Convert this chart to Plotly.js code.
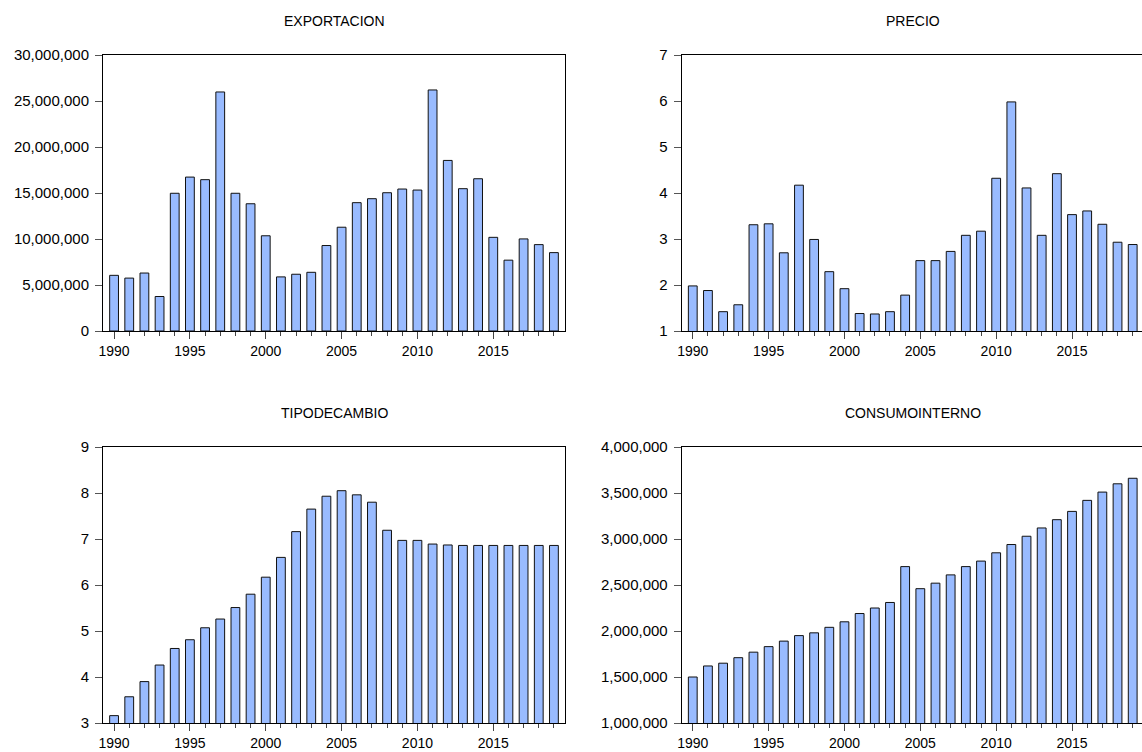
<!DOCTYPE html>
<html>
<head>
<meta charset="utf-8">
<script src="https://cdn.plot.ly/plotly-3.0.1.min.js"></script>
<style>
  html, body { margin: 0; padding: 0; background: #fff; }
  #chart { width: 1142px; height: 752px; }
</style>
</head>
<body>
<div id="chart"></div>
<script>
const years = [1990,1991,1992,1993,1994,1995,1996,1997,1998,1999,2000,2001,2002,2003,2004,2005,2006,2007,2008,2009,2010,2011,2012,2013,2014,2015,2016,2017,2018,2019];

const exportacion = [6050000,5750000,6300000,3750000,14970000,16730000,16450000,25980000,14970000,13830000,10350000,5880000,6170000,6380000,9290000,11280000,13950000,14380000,15030000,15430000,15320000,26200000,18540000,15470000,16550000,10180000,7700000,10010000,9390000,8520000];

const precio = [1.98,1.88,1.42,1.57,3.31,3.33,2.70,4.17,2.99,2.29,1.92,1.38,1.37,1.42,1.78,2.53,2.53,2.73,3.08,3.17,4.32,5.98,4.11,3.08,4.42,3.53,3.61,3.32,2.93,2.88];

const tipodecambio = [3.16,3.57,3.90,4.26,4.62,4.81,5.07,5.26,5.51,5.80,6.17,6.60,7.16,7.65,7.93,8.05,7.96,7.80,7.19,6.97,6.97,6.89,6.87,6.86,6.86,6.86,6.86,6.86,6.86,6.86];

const consumointerno = [1500000,1620000,1650000,1710000,1770000,1830000,1890000,1950000,1980000,2040000,2100000,2190000,2250000,2310000,2700000,2460000,2520000,2610000,2700000,2760000,2850000,2940000,3030000,3120000,3210000,3300000,3420000,3510000,3600000,3660000];

const titles = ["EXPORTACION", "PRECIO", "TIPODECAMBIO", "CONSUMOINTERNO"];

const W = 1142, H = 752;
const fontFam = "Liberation Sans, Arial, sans-serif";
const barColor = "#99bbff";

function bar(y, xa, ya) {
  return {
    type: "bar", x: years, y: y, xaxis: xa, yaxis: ya,
    width: 0.58,
    marker: { color: barColor, line: { color: "#111", width: 1 } },
    hoverinfo: "x+y", showlegend: false
  };
}

const data = [
  bar(exportacion, "x", "y"),
  bar(precio, "x2", "y2"),
  bar(tipodecambio, "x3", "y3"),
  bar(consumointerno, "x4", "y4")
];

// pixel geometry of plot areas
const leftDom = [103 / W, 565 / W];
const rightDom = [681.7 / W, 1];
const topDom = [1 - 331 / H, 1 - 55 / H];
const botDom = [1 - 723 / H, 1 - 447 / H];

function xax(dom, anchor, range) {
  return {
    domain: dom, anchor: anchor, range: range,
    showline: true, linecolor: "#000", linewidth: 1, mirror: true,
    showgrid: false, zeroline: false,
    ticks: "outside", ticklen: 7, tickcolor: "#444", tickwidth: 1,
    tick0: 1990, dtick: 5,
    minor: { ticks: "outside", ticklen: 4, tick0: 1990, dtick: 1, tickcolor: "#444", tickwidth: 1, showgrid: false },
    tickfont: { family: fontFam, size: 14, color: "#000" },
    fixedrange: true
  };
}
function yax(dom, anchor, range, dtick, fmt, mirror) {
  return {
    domain: dom, anchor: anchor, range: range,
    showline: true, linecolor: "#000", linewidth: 1, mirror: mirror,
    showgrid: false, zeroline: false,
    ticks: "outside", ticklen: 7, tickcolor: "#555", tickwidth: 1,
    dtick: dtick, tick0: range[0], tickformat: fmt,
    tickfont: { family: fontFam, size: 15, color: "#000" },
    ticklabelstandoff: 3,
    fixedrange: true
  };
}

const xLeftRange = [1989.27, 2019.73];
const xRightRange = [1989.27, 1989.27 + (W - 681.7) / 15.17];

function title(text, xc, yc) {
  return {
    text: text, xref: "paper", yref: "paper", x: xc, y: yc,
    xanchor: "center", yanchor: "middle", showarrow: false,
    font: { family: fontFam, size: 14, color: "#000" }
  };
}

const layout = {
  width: W, height: H,
  margin: { l: 0, r: 0, t: 0, b: 0 },
  paper_bgcolor: "#fff", plot_bgcolor: "#fff",
  bargap: 0,
  xaxis: xax(leftDom, "y", xLeftRange),
  yaxis: yax(topDom, "x", [0, 30000000], 5000000, ",d", true),
  xaxis2: xax(rightDom, "y2", xRightRange),
  yaxis2: yax(topDom, "x2", [1, 7], 1, "d", false),
  xaxis3: xax(leftDom, "y3", xLeftRange),
  yaxis3: yax(botDom, "x3", [3, 9], 1, "d", true),
  xaxis4: xax(rightDom, "y4", xRightRange),
  yaxis4: yax(botDom, "x4", [1000000, 4000000], 500000, ",d", false),
  annotations: [
    title(titles[0], 334 / W, 1 - 21 / H),
    title(titles[1], 912.7 / W, 1 - 21 / H),
    title(titles[2], 334 / W, 1 - 413 / H),
    title(titles[3], 912.7 / W, 1 - 413 / H)
  ]
};

Plotly.newPlot("chart", data, layout, { displayModeBar: false, staticPlot: true });
</script>
</body>
</html>
